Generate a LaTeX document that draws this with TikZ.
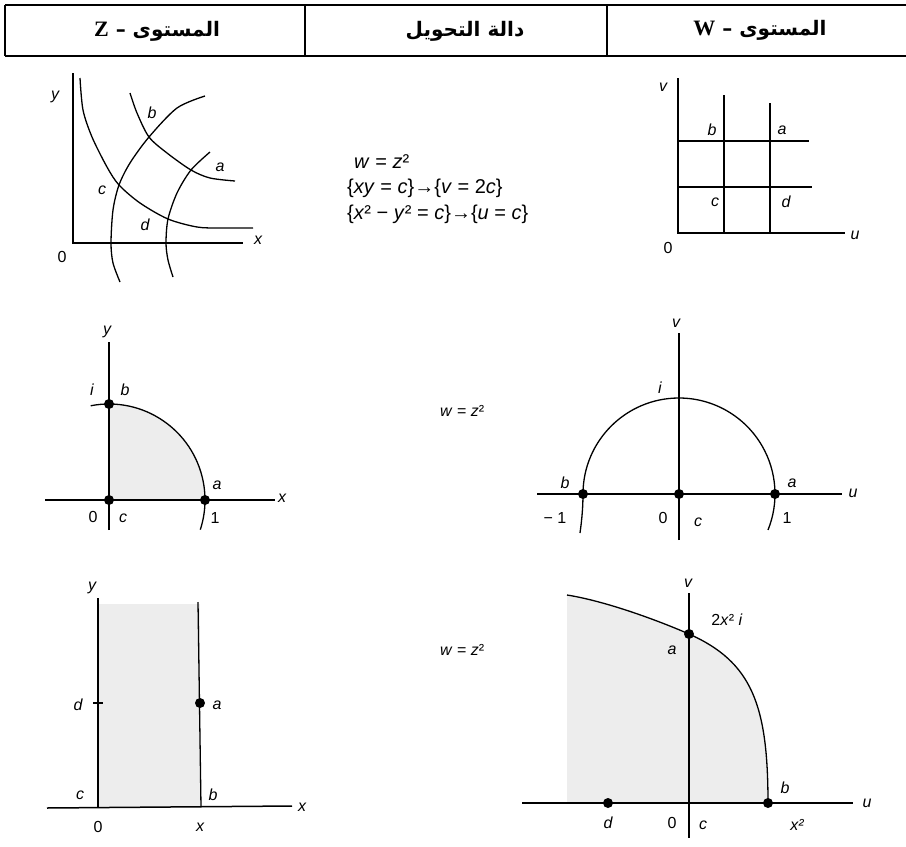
\documentclass[tikz,border=0pt]{standalone}
\usepackage{fontspec}
\setmainfont{Liberation Sans}
\newfontfamily\arabicfont[Script=Arabic]{DejaVu Sans}
\newfontfamily\headserif{Liberation Serif}
\TeXXeTstate=1
\usetikzlibrary{calc}

\begin{document}
\begin{tikzpicture}[x=1pt, y=-1pt,
          rule/.style={line width=1.1pt},
          axis/.style={line width=1.5pt},
          curve/.style={line width=1.3pt},
          shade/.style={fill=black!7},
          dot/.style={circle, fill=black, inner sep=0pt, minimum size=10pt},
          head/.style={font=\arabicfont\bfseries\fontsize{20}{24}\selectfont},
          lbl/.style={font=\fontsize{16}{18}\selectfont\itshape, inner sep=0pt},
          num/.style={font=\fontsize{16}{18}\selectfont, inner sep=0pt},
          rel/.style={font=\fontsize{16}{18}\selectfont, inner sep=0pt, anchor=west},
          bigrel/.style={rel, font=\fontsize{20}{24}\selectfont}
        ]
        \useasboundingbox (0,0) rectangle (906,847);

        % Header
        \draw[rule] (5,5) -- (906,5);
        \draw[rule] (5,56) -- (906,56);
        \foreach \xc in {5,305,607} \draw[rule] (\xc,5) -- (\xc,56);
        \node[head] (hz) at (157,31) {\beginR المستوى – {\headserif\bfseries\fontsize{22}{24}\selectfont Z}\endR};
        \node[head] (hf) at (465,31) {\beginR دالة التحويل\endR};
        \node[head] (hw) at (760,30) {\beginR المستوى – {\headserif\bfseries\fontsize{22}{24}\selectfont W}\endR};

        % Z-plane: hyperbolas
        \draw[axis] (73,73) -- (73,243) -- (243,243);
        \draw[curve] plot[smooth] coordinates {(80,78) (83,110) (92,137) (107,167)
              (119,185) (140,203) (168,219) (197,227) (220,228) (253,228)};
        \draw[curve] plot[smooth] coordinates {(130,93) (137,113) (149,137)
              (167,153) (191,170) (210,178) (235,181)};
        \draw[curve] plot[smooth] coordinates {(205,96) (177,108) (149,137)
              (130,163) (119,185) (113,210) (111,243) (113,263) (120,282)};
        \draw[curve] plot[smooth] coordinates {(210,152) (191,170) (177,193)
              (168,219) (166,243) (168,260) (173,277)};
        \node[lbl] (zy1) at (55,97) {y};
        \node[lbl] (zx1) at (258,240) {x};
        \node[num] (zo1) at (62,257) {0};
        \node[lbl] (zb1) at (152,113) {b};
        \node[lbl] (za1) at (220,167) {a};
        \node[lbl] (zc1) at (102,190) {c};
        \node[lbl] (zd1) at (145,225) {d};

        % Mapping of the grid
        \node[bigrel] (map1) at (354,162) {\textit{w} = \textit{z}²};
        \node[bigrel] (map2) at (347,188) {\{\textit{xy} = \textit{c}\}→\{\textit{v} = 2\textit{c}\}};
        \node[bigrel] (map3) at (347,214) {\{\textit{x}² − \textit{y}² = \textit{c}\}→\{\textit{u} = \textit{c}\}};

        % W-plane: grid
        \draw[axis] (678,78) -- (678,233) -- (845,233);
        \draw[curve] (724,95) -- (724,233);
        \draw[curve] (770,103) -- (770,233);
        \draw[curve] (678,141) -- (809,141);
        \draw[curve] (678,187) -- (812,187);
        \node[lbl] (wv1) at (663,87) {v};
        \node[lbl] (wu1) at (855,235) {u};
        \node[num] (wo1) at (668,248) {0};
        \node[lbl] (wb1) at (712,130) {b};
        \node[lbl] (wa1) at (782,130) {a};
        \node[lbl] (wc1) at (715,202) {c};
        \node[lbl] (wd1) at (786,202) {d};

        % Z-plane: quarter disc
        \begin{scope}[shift={(109,500)}, yscale=-1]
          \fill[shade] (0,0) -- (96,0) arc[start angle=0, end angle=90, radius=96] -- cycle;
          \draw[axis] (-64,0) -- (166,0);
          \draw[axis] (0,-30) -- (0,158);
          \draw[curve] (101:96) arc[start angle=101, end angle=-18, radius=96];
          \node[dot] (zb2) at (0,96) {};
          \node[dot] (zc2) at (0,0) {};
          \node[dot] (za2) at (96,0) {};
        \end{scope}
        \node[lbl] at (107,332) {y};
        \node[lbl] at (282,498) {x};
        \node[lbl] at (92,390) {i};
        \node[lbl] at (125,390) {b};
        \node[lbl] at (217,485) {a};
        \node[num] at (93,517) {0};
        \node[lbl] at (123,518) {c};
        \node[num] at (215,518) {1};

        \node[rel] (map4) at (440,411) {\textit{w} = \textit{z}²};

        % W-plane: half disc
        \begin{scope}[shift={(679,494)}, yscale=-1]
          \draw[axis] (-142,0) -- (163,0);
          \draw[axis] (0,-46) -- (0,161);
          \draw[curve] (-99,-39) .. controls (-97,-25) and (-96,-12) .. (-96,0)
                arc[start angle=180, end angle=-22, radius=96];
          \node[dot] (wb2) at (-96,0) {};
          \node[dot] (wc2) at (0,0) {};
          \node[dot] (wa2) at (96,0) {};
        \end{scope}
        \node[lbl] at (676,323) {v};
        \node[lbl] at (853,493) {u};
        \node[lbl] at (660,388) {i};
        \node[lbl] at (565,483) {b};
        \node[lbl] at (792,483) {a};
        \node[num] at (555,518) {− 1};
        \node[num] at (663,518) {0};
        \node[lbl] at (698,522) {c};
        \node[num] at (787,518) {1};

        % Z-plane: strip
        \fill[shade] (98,604) rectangle (200,807);
        \draw[axis] (98,598) -- (98,808);
        \draw[axis] (47,808) -- (292,806);
        \draw[curve] (198,602) -- (201,807);
        \draw[curve] (93,703) -- (103,703);
        \node[dot] (za3) at (200,703) {};
        \node[lbl] at (92,588) {y};
        \node[lbl] at (302,807) {x};
        \node[lbl] at (78,705) {d};
        \node[lbl] at (217,705) {a};
        \node[lbl] at (80,795) {c};
        \node[lbl] at (213,795) {b};
        \node[num] at (98,827) {0};
        \node[lbl] at (200,827) {x};

        \node[rel] (map5) at (440,650) {\textit{w} = \textit{z}²};

        % W-plane: image of the strip
        \fill[shade] (567,595) .. controls (605,601) and (657,620) .. (689,634)
              .. controls (752,662) and (768,705) .. (768,803) -- (567,803) -- cycle;
        \draw[axis] (522,803) -- (853,803);
        \draw[axis] (689,593) -- (689,838);
        \draw[curve] (567,595) .. controls (605,601) and (657,620) .. (689,634)
              .. controls (752,662) and (768,705) .. (768,803);
        \node[dot] (wa3) at (689,634) {};
        \node[dot] (wb3) at (768,803) {};
        \node[dot] (wd3) at (608,803) {};
        \node[lbl] at (688,583) {v};
        \node[num] at (727,620) {2\textit{x}² \textit{i}};
        \node[lbl] at (672,650) {a};
        \node[lbl] at (785,788) {b};
        \node[lbl] at (867,803) {u};
        \node[lbl] at (608,823) {d};
        \node[num] at (672,823) {0};
        \node[lbl] at (703,825) {c};
        \node[lbl] at (797,825) {x²};
\end{tikzpicture}
\end{document}
